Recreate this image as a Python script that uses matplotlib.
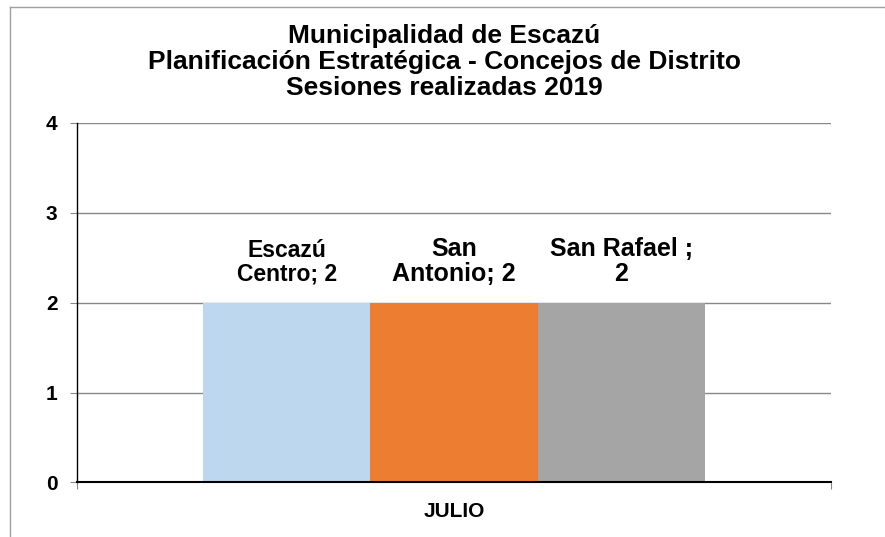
import numpy as np
import matplotlib
matplotlib.use("Agg")
import matplotlib.pyplot as plt
from matplotlib.lines import Line2D

plt.rcParams['font.family'] = ['Liberation Sans', 'DejaVu Sans']
plt.rcParams['font.weight'] = 'bold'

# data
category = ["JULIO"]
districts = ["Escazú Centro", "San Antonio", "San Rafael "]
sessions = [2, 2, 2]
labels = ["Escazú\nCentro; 2", "San\nAntonio; 2", "San Rafael ;\n2"]
label_sizes = [16.5, 18, 18]
colors = ["#BDD7EE", "#ED7D31", "#A5A5A5"]
title = "Municipalidad de Escazú\nPlanificación Estratégica - Concejos de Distrito\nSesiones realizadas 2019"

fig = plt.figure(figsize=(8.85, 5.37), dpi=100)
ax = fig.add_axes([0.087, 0.1015, 0.852, 0.67])

w = 0.222
offsets = (np.arange(len(districts)) - 1) * w
for i in range(len(districts)):
    ax.bar(0 + offsets[i], sessions[i], width=w, color=colors[i], zorder=2)
    ax.annotate(labels[i], xy=(offsets[i], sessions[i]), xytext=(0, 12),
                textcoords="offset points", ha="center", va="bottom",
                multialignment="center", fontsize=label_sizes[i],
                fontweight="bold", linespacing=1.05)

ax.set_xlim(-0.5, 0.5)
ax.set_ylim(0, 4)
ax.set_yticks([0, 1, 2, 3, 4])
ax.set_yticklabels([str(v) for v in range(5)], fontweight="bold", fontsize=15)
ax.yaxis.grid(True, color="#888888", linewidth=1, zorder=0)
ax.set_axisbelow(True)

ax.set_xticks([-0.5, 0.5], minor=False)
ax.set_xticklabels(["", ""])
ax.set_xticks([0], minor=True)
ax.set_xticklabels(category, minor=True, fontweight="bold", fontsize=15)
ax.tick_params(axis="x", which="major", length=5, color="#888888", direction="out")
ax.tick_params(axis="x", which="minor", length=0, pad=14)
ax.tick_params(axis="y", length=5, color="#888888", pad=9)

for s in ["top", "right"]:
    ax.spines[s].set_visible(False)
ax.spines["left"].set_color("black")
ax.spines["left"].set_linewidth(1)
ax.spines["bottom"].set_color("black")
ax.spines["bottom"].set_linewidth(1.5)
ax.spines["bottom"].set_zorder(3)

fig.text(444 / 885, 1 - 62 / 537, title, ha="center", va="center",
         fontsize=19, fontweight="bold", linespacing=1.1)

# outer frame of the chart area
fig.add_artist(Line2D([10 / 885, 10 / 885], [1 - 7 / 537, 0], color="#a0a0a0", linewidth=1,
                      transform=fig.transFigure))
fig.add_artist(Line2D([10 / 885, 1], [1 - 7 / 537, 1 - 7 / 537], color="#a0a0a0", linewidth=1,
                      transform=fig.transFigure))

fig.savefig("out.png", dpi=100)
